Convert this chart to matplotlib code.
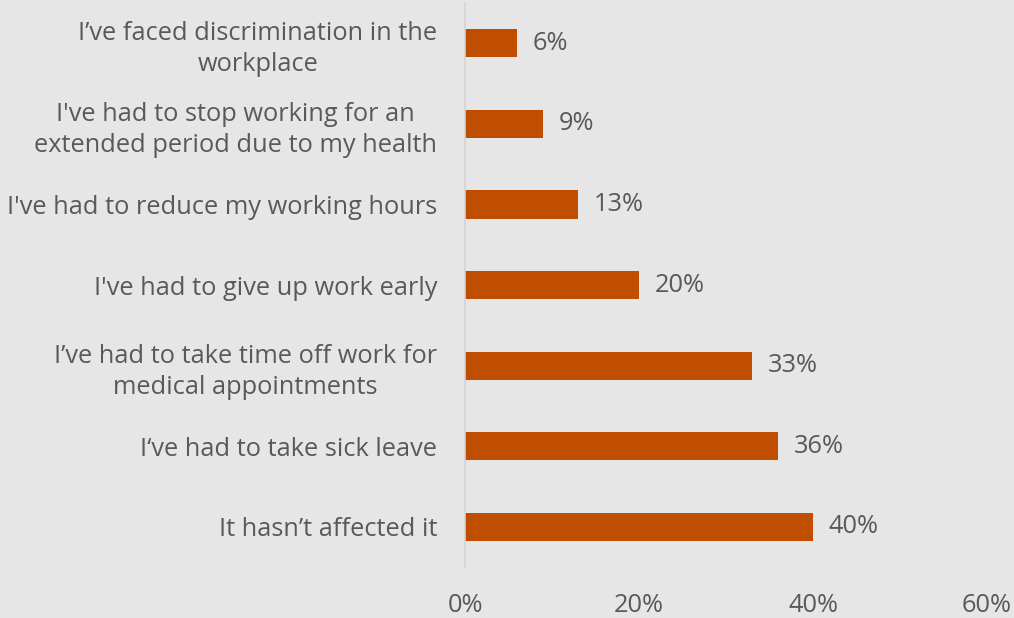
import matplotlib
matplotlib.use("Agg")
import matplotlib.pyplot as plt

categories = [
    "I\u2019ve faced discrimination in the\nworkplace",
    "I've had to stop working for an\nextended period due to my health",
    "I've had to reduce my working hours",
    "I've had to give up work early",
    "I\u2019ve had to take time off work for\nmedical appointments",
    "I\u2018ve had to take sick leave",
    "It hasn\u2019t affected it",
]
values = [6, 9, 13, 20, 33, 36, 40]
x_ticks = [0, 20, 40, 60]

BG = "#E7E6E6"
BAR = "#BF4E00"
TEXT = "#595959"
FS = 18.3

plt.rcParams["font.family"] = ["Open Sans", "DejaVu Sans"]

fig = plt.figure(figsize=(10.14, 6.18), dpi=100, facecolor=BG)
ax = fig.add_axes([0.4586, 0.0825, 0.5148, 0.9125], facecolor=BG)

pos = list(range(len(categories)))
ax.barh(pos, values, height=0.35, color=BAR, zorder=2)
ax.set_ylim(len(categories) - 0.5, -0.5)
ax.set_xlim(0, 60)

ax.set_yticks(pos)
ax.set_yticklabels(categories, fontsize=FS, color=TEXT,
                   multialignment="center", linespacing=1.32)
ax.set_xticks(x_ticks)
ax.set_xticklabels([f"{t}%" for t in x_ticks], fontsize=FS, color=TEXT)
ax.tick_params(axis="both", length=0)
ax.tick_params(axis="y", pad=20)
ax.tick_params(axis="x", pad=19)

for s in ["top", "right", "bottom"]:
    ax.spines[s].set_visible(False)
ax.spines["left"].set_color("#D4D4D4")
ax.spines["left"].set_linewidth(1.2)

for p, v in zip(pos, values):
    ax.text(v + 1.8, p, f"{v}%", va="center", ha="left", fontsize=FS, color=TEXT)

fig.savefig("out.png", dpi=100, facecolor=BG)
